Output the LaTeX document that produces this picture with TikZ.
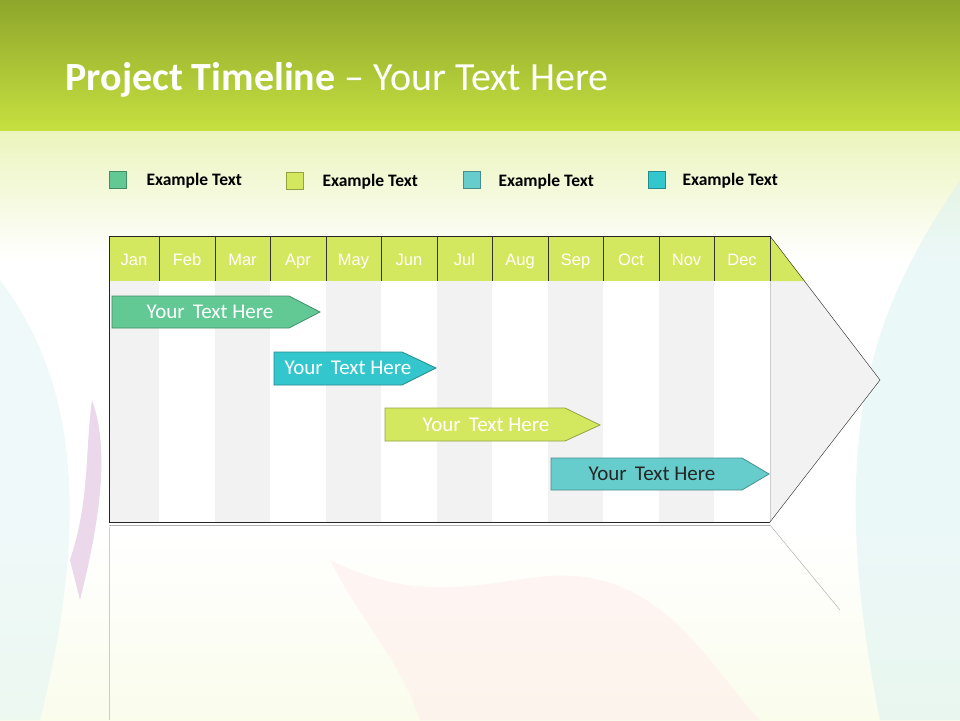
\documentclass[tikz,border=0pt]{standalone}
\usepackage{fontspec}
\setmainfont{Carlito}
\newfontfamily\arialf{Liberation Sans}
\definecolor{hgreen}{HTML}{D4E85F}
\definecolor{cgreen}{HTML}{62C995}
\definecolor{cteal}{HTML}{33C6CC}
\definecolor{cblue}{HTML}{66CCCC}
\definecolor{gcol}{HTML}{F2F2F2}
\definecolor{topa}{HTML}{8EA62B}
\definecolor{topb}{HTML}{C6E040}
\tikzset{
  legbox/.style={draw=#1!70!black,fill=#1,minimum size=17pt,inner sep=0pt},
  legtxt/.style={font=\bfseries\fontsize{17.5}{19}\selectfont,anchor=west},
  mon/.style={font=\arialf\fontsize{16.5}{18}\selectfont,text=white,anchor=base},
  bar/.style={draw=#1!70!black,fill=#1,line width=0.8pt},
  bartxt/.style={font=\fontsize{21}{23}\selectfont,text=white},
}
\begin{document}
\begin{tikzpicture}[x=1pt,y=-1pt]
\useasboundingbox (0,0) rectangle (960,720);
% background
\fill[white] (0,0) rectangle (960,720);
\shade[top color=topb!35,bottom color=white] (0,130) rectangle (960,260);
\shade[top color=white,bottom color=hgreen!12] (0,530) rectangle (960,720);
\fill[pink!30,opacity=0.5] (330,560) .. controls (450,620) and (520,560) .. (600,580) .. controls (680,600) and (720,680) .. (760,720) -- (420,720) .. controls (400,660) and (360,620) .. (330,560);
\fill[cblue!25,opacity=0.5] (960,180) .. controls (880,300) and (820,420) .. (880,720) -- (960,720) -- cycle;
\fill[cblue!20,opacity=0.5] (0,280) .. controls (60,360) and (100,480) .. (40,720) -- (0,720) -- cycle;
\fill[violet!25,opacity=0.6] (92,400) .. controls (110,450) and (100,520) .. (80,600) -- (70,560) .. controls (90,500) and (85,450) .. (92,400);
\shade[top color=topa,bottom color=topb] (0,0) rectangle (960,130);
\node[anchor=west,text=white,font=\fontsize{40}{44}\selectfont] (title) at (62,80) {\textbf{Project Timeline} -- Your Text Here};
% legend
\node[legbox=cgreen] (l1) at (118,180) {};
\node[legtxt] (t1) at (143,181) {Example Text};
\node[legbox=hgreen] (l2) at (295,181) {};
\node[legtxt] (t2) at (319,182) {Example Text};
\node[legbox=cblue] (l3) at (472,180) {};
\node[legtxt] (t3) at (495,182) {Example Text};
\node[legbox=cteal] (l4) at (657,180) {};
\node[legtxt] (t4) at (679,181) {Example Text};
% body
\fill[gcol] (109,281) -- (805,281) -- (880,380) -- (770,522) -- (109,522) -- cycle;
\fill[hgreen] (109,236) -- (770,236) -- (805,281) -- (109,281) -- cycle;
\foreach \a/\b/\m/\c in {109/159/Jan/gcol,159/215/Feb/white,215/270/Mar/gcol,270/326/Apr/white,326/381/May/gcol,381/437/Jun/white,437/492/Jul/gcol,492/548/Aug/white,548/603/Sep/gcol,603/659/Oct/white,659/714/Nov/gcol,714/770/Dec/white}{
  \fill[\c] (\a,281) rectangle (\b,522);
  \draw[black!20] (\b,281) -- (\b,522);
  \draw[black!80] (\b,236) -- (\b,281);
  \node[mon] (m\m) at ({(\a+\b)/2},265) {\m};
}
\draw[black!85,line width=0.8pt] (770,236) -- (109,236) -- (109,522) -- (770,522);
\draw[black!85] (770,236) -- (880,380) -- (770,522);
% reflection
\draw[black!20] (109,527) -- (109,720);
\draw[black!30] (109,525) -- (770,525);
\draw[black!35] (770,525) -- (840,610);
% bars
\draw[bar=cgreen] (112,296) -- (289,296) -- (320,312) -- (289,328) -- (112,328) -- cycle;
\node[bartxt] (b1) at (210,312) {Your\, Text Here};
\draw[bar=cteal] (274,352) -- (402,352) -- (436,368) -- (402,385) -- (274,385) -- cycle;
\node[bartxt] (b2) at (348,368) {Your\, Text Here};
\draw[bar=hgreen] (385,408) -- (565,408) -- (600,425) -- (565,441) -- (385,441) -- cycle;
\node[bartxt] (b3) at (486,425) {Your\, Text Here};
\draw[bar=cblue] (551,458) -- (742,458) -- (769,474) -- (742,490) -- (551,490) -- cycle;
\node[bartxt,text=black!85] (b4) at (652,474) {Your\, Text Here};
\end{tikzpicture}
\end{document}
